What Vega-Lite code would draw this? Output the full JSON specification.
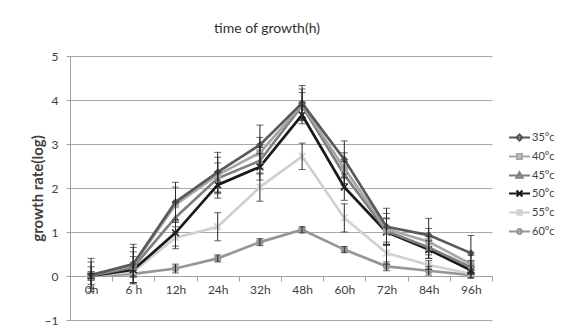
{
  "$schema": "https://vega.github.io/schema/vega-lite/v6.json",
  "width": 422,
  "height": 264,
  "autosize": {"type": "none"},
  "padding": {"left": 70, "top": 56, "right": 72, "bottom": 8},
  "background": "white",
  "config": {
    "font": "Lato",
    "view": {"stroke": null},
    "axis": {"labelColor": "#404040", "labelFontSize": 12, "domainColor": "#a0a0a0", "tickColor": "#a0a0a0", "gridColor": "#a8a8a8"}
  },
  "title": {"text": "time of growth(h)", "fontSize": 14, "fontWeight": "normal", "color": "#303030", "anchor": "middle", "offset": 14, "dx": -14},
  "data": {"values": [
    {"t":"0h","c":"35°c","v":0.02,"e":0.38},{"t":"6 h","c":"35°c","v":0.27,"e":0.45},{"t":"12h","c":"35°c","v":1.68,"e":0.45},{"t":"24h","c":"35°c","v":2.36,"e":0.45},{"t":"32h","c":"35°c","v":2.98,"e":0.45},{"t":"48h","c":"35°c","v":3.93,"e":0.4},{"t":"60h","c":"35°c","v":2.65,"e":0.42},{"t":"72h","c":"35°c","v":1.12,"e":0.42},{"t":"84h","c":"35°c","v":0.93,"e":0.38},{"t":"96h","c":"35°c","v":0.52,"e":0.4},
    {"t":"0h","c":"40°c","v":0.02,"e":0.3},{"t":"6 h","c":"40°c","v":0.25,"e":0.4},{"t":"12h","c":"40°c","v":1.62,"e":0.4},{"t":"24h","c":"40°c","v":2.3,"e":0.4},{"t":"32h","c":"40°c","v":2.8,"e":0.35},{"t":"48h","c":"40°c","v":3.9,"e":0.35},{"t":"60h","c":"40°c","v":2.45,"e":0.35},{"t":"72h","c":"40°c","v":1.07,"e":0.35},{"t":"84h","c":"40°c","v":0.78,"e":0.3},{"t":"96h","c":"40°c","v":0.27,"e":0.2},
    {"t":"0h","c":"45°c","v":0.01,"e":0.2},{"t":"6 h","c":"45°c","v":0.2,"e":0.35},{"t":"12h","c":"45°c","v":1.33,"e":0.35},{"t":"24h","c":"45°c","v":2.22,"e":0.35},{"t":"32h","c":"45°c","v":2.62,"e":0.3},{"t":"48h","c":"45°c","v":3.87,"e":0.3},{"t":"60h","c":"45°c","v":2.3,"e":0.3},{"t":"72h","c":"45°c","v":1.02,"e":0.3},{"t":"84h","c":"45°c","v":0.65,"e":0.25},{"t":"96h","c":"45°c","v":0.2,"e":0.15},
    {"t":"0h","c":"50°c","v":0.0,"e":0.1},{"t":"6 h","c":"50°c","v":0.14,"e":0.3},{"t":"12h","c":"50°c","v":0.98,"e":0.3},{"t":"24h","c":"50°c","v":2.07,"e":0.3},{"t":"32h","c":"50°c","v":2.48,"e":0.3},{"t":"48h","c":"50°c","v":3.66,"e":0.2},{"t":"60h","c":"50°c","v":2.02,"e":0.3},{"t":"72h","c":"50°c","v":1.0,"e":0.3},{"t":"84h","c":"50°c","v":0.6,"e":0.2},{"t":"96h","c":"50°c","v":0.13,"e":0.1},
    {"t":"0h","c":"55°c","v":0.0,"e":0.05},{"t":"6 h","c":"55°c","v":0.1,"e":0.1},{"t":"12h","c":"55°c","v":0.87,"e":0.25},{"t":"24h","c":"55°c","v":1.12,"e":0.32},{"t":"32h","c":"55°c","v":2.02,"e":0.32},{"t":"48h","c":"55°c","v":2.72,"e":0.3},{"t":"60h","c":"55°c","v":1.32,"e":0.32},{"t":"72h","c":"55°c","v":0.52,"e":0.25},{"t":"84h","c":"55°c","v":0.25,"e":0.1},{"t":"96h","c":"55°c","v":0.05,"e":0.1},
    {"t":"0h","c":"60°c","v":0.0,"e":0.05},{"t":"6 h","c":"60°c","v":0.05,"e":0.08},{"t":"12h","c":"60°c","v":0.17,"e":0.1},{"t":"24h","c":"60°c","v":0.4,"e":0.08},{"t":"32h","c":"60°c","v":0.77,"e":0.08},{"t":"48h","c":"60°c","v":1.05,"e":0.07},{"t":"60h","c":"60°c","v":0.6,"e":0.07},{"t":"72h","c":"60°c","v":0.22,"e":0.1},{"t":"84h","c":"60°c","v":0.12,"e":0.1},{"t":"96h","c":"60°c","v":0.02,"e":0.05}
  ]},
  "encoding": {
    "x": {"field": "t", "type": "ordinal", "sort": ["0h","6 h","12h","24h","32h","48h","60h","72h","84h","96h"],
      "scale": {"type": "band", "paddingInner": 0, "paddingOuter": 0},
      "axis": {"title": null, "orient": "bottom", "offset": -44, "labelAngle": 0, "tickBand": "extent", "tickSize": 5, "labelPadding": 3, "grid": false}},
    "y": {"field": "v", "type": "quantitative",
      "scale": {"domain": [-1, 5], "nice": false, "zero": false},
      "axis": {"title": "growth rate(log)", "values": [-1,0,1,2,3,4,5], "grid": true, "tickSize": 4, "labelPadding": 8,
        "titleFontSize": 15, "titleFontWeight": "bold", "titleColor": "#404040", "titleX": -33, "titleY": 132, "titleAngle": 270, "titleAlign": "center", "titleBaseline": "middle"}}
  },
  "layer": [
    {"transform": [{"filter": "datum.c == '60°c'"}], "mark": {"type": "line", "color": "#969696", "strokeWidth": 2.7, "point": {"shape": "circle", "filled": true, "size": 55, "color": "#969696"}}},
    {"transform": [{"filter": "datum.c == '55°c'"}], "mark": {"type": "line", "color": "#d0d0d0", "strokeWidth": 2.7, "point": {"shape": "M-1,-1L1,1M-1,1L1,-1M0,-1.2L0,1.2", "filled": false, "size": 45, "strokeWidth": 1.5, "color": "#d0d0d0"}}},
    {"transform": [{"filter": "datum.c == '50°c'"}], "mark": {"type": "line", "color": "#1a1a1a", "strokeWidth": 2.7, "point": {"shape": "M-1,-1L1,1M-1,1L1,-1", "filled": false, "size": 45, "strokeWidth": 1.5, "color": "#1a1a1a"}}},
    {"transform": [{"filter": "datum.c == '45°c'"}], "mark": {"type": "line", "color": "#7f7f7f", "strokeWidth": 2.7, "point": {"shape": "triangle-up", "filled": true, "size": 60, "color": "#7f7f7f"}}},
    {"transform": [{"filter": "datum.c == '40°c'"}], "mark": {"type": "line", "color": "#a6a6a6", "strokeWidth": 2.7, "point": {"shape": "square", "filled": true, "size": 50, "color": "#a6a6a6"}}},
    {"transform": [{"filter": "datum.c == '35°c'"}], "mark": {"type": "line", "color": "#595959", "strokeWidth": 2.7, "point": {"shape": "diamond", "filled": true, "size": 60, "color": "#595959"}}},
    {"mark": {"type": "errorbar", "ticks": {"size": 7, "color": "#262626", "strokeWidth": 1}, "rule": {"color": "#262626", "strokeWidth": 1}},
      "encoding": {"yError": {"field": "e"}}},
    {"mark": {"type": "point", "opacity": 0, "filled": true},
      "encoding": {
        "fill": {"field": "c", "type": "nominal", "scale": {"domain": ["35°c","40°c","45°c","50°c","55°c","60°c"], "range": ["#595959","#a6a6a6","#7f7f7f","#1a1a1a","#d0d0d0","#969696"]},
          "legend": {"title": null, "orient": "none", "legendX": 438, "legendY": 70, "symbolSize": 440, "symbolStrokeWidth": 2, "labelFontSize": 11, "labelColor": "#404040", "rowPadding": 0, "labelOffset": 1}},
        "stroke": {"field": "c", "type": "nominal", "scale": {"domain": ["35°c","40°c","45°c","50°c","55°c","60°c"], "range": ["#595959","#a6a6a6","#7f7f7f","#1a1a1a","#d0d0d0","#969696"]},
          "legend": {"title": null, "orient": "none", "legendX": 438, "legendY": 70, "symbolSize": 440, "symbolStrokeWidth": 2, "labelFontSize": 11, "labelColor": "#404040", "rowPadding": 0, "labelOffset": 1}},
        "shape": {"field": "c", "type": "nominal", "scale": {"domain": ["35°c","40°c","45°c","50°c","55°c","60°c"], "range": [
          "M-1,0L1,0M0,-0.3L0.3,0L0,0.3L-0.3,0Z",
          "M-1,0L1,0M-0.24,-0.24L0.24,-0.24L0.24,0.24L-0.24,0.24Z",
          "M-1,0L1,0M0,-0.3L0.3,0.22L-0.3,0.22Z",
          "M-1,0L1,0M-0.28,-0.28L0.28,0.28M-0.28,0.28L0.28,-0.28",
          "M-1,0L1,0M-0.28,-0.28L0.28,0.28M-0.28,0.28L0.28,-0.28M0,-0.32L0,0.32",
          "M-1,0L1,0M-0.24,0A0.24,0.24,0,1,0,0.24,0A0.24,0.24,0,1,0,-0.24,0Z"]},
          "legend": {"title": null, "orient": "none", "legendX": 438, "legendY": 70, "symbolSize": 440, "symbolStrokeWidth": 2, "labelFontSize": 11, "labelColor": "#404040", "rowPadding": 0, "labelOffset": 1}}
      }}
  ]
}
